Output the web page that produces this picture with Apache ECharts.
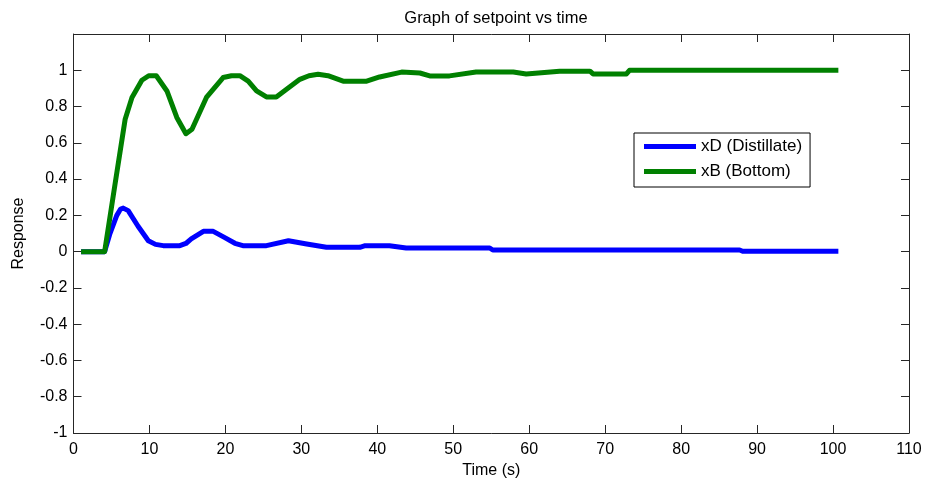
<!DOCTYPE html>
<html>
<head>
<meta charset="utf-8">
<script src="https://cdn.jsdelivr.net/npm/echarts@6/dist/echarts.min.js"></script>
<style>
  html, body { margin: 0; padding: 0; background: #fff; }
  #chart { width: 927px; height: 481px; }
</style>
</head>
<body>
<div id="chart"></div>
<script>
// xD (Distillate) response
const tD = [1, 4.1, 4.8, 5.7, 6.2, 6.55, 7.2, 8.5, 9.85, 10.8, 11.8, 14, 14.8, 15.5, 17.1, 18.4, 19.8, 21.25, 22.3, 25.4, 28.3, 30.7, 33.3, 37.7, 38.4, 41.6, 43.8, 54.8, 55.2, 87.7, 88.1, 100.7];
const xD = [0, 0, 0.1, 0.2, 0.235, 0.24, 0.226, 0.14, 0.06, 0.04, 0.033, 0.033, 0.045, 0.07, 0.112, 0.112, 0.08, 0.046, 0.033, 0.033, 0.06, 0.042, 0.024, 0.024, 0.033, 0.033, 0.02, 0.02, 0.009, 0.009, 0.002, 0.002];

// xB (Bottom) response
const tB = [1, 4.1, 5.5, 6.8, 7.7, 9, 9.9, 10.9, 12.3, 13.6, 14.8, 15.6, 17.5, 19.7, 20.8, 21.9, 23, 24.1, 25.4, 26.7, 28.05, 29.8, 31, 32.2, 33.5, 35.5, 38.6, 40.3, 43.2, 45.6, 46.9, 49.5, 53, 57.9, 59.6, 64, 68, 68.4, 72.8, 73.2, 100.7];
const xB = [0, 0, 0.38, 0.73, 0.85, 0.945, 0.97, 0.97, 0.886, 0.74, 0.65, 0.675, 0.85, 0.96, 0.97, 0.97, 0.94, 0.886, 0.853, 0.853, 0.895, 0.95, 0.97, 0.978, 0.97, 0.94, 0.94, 0.963, 0.99, 0.985, 0.969, 0.969, 0.99, 0.99, 0.98, 0.995, 0.995, 0.98, 0.98, 1.0, 1.0];

const pairs = (t, v) => t.map((x, i) => [x, v[i]]);

const font = 'Liberation Sans, Arial, sans-serif';
const axisCol = '#262626';

const chart = echarts.init(document.getElementById('chart'));

const baseX = {
  type: 'value', min: 0, max: 110, interval: 10,
  axisLine: { show: true, onZero: false, lineStyle: { color: axisCol, width: 1 } },
  axisTick: { show: true, inside: true, length: 8, lineStyle: { color: axisCol } },
  splitLine: { show: false }
};
const baseY = {
  type: 'value', min: -1, max: 1.2, interval: 0.2,
  axisLine: { show: true, onZero: false, lineStyle: { color: axisCol, width: 1 } },
  axisTick: { show: true, inside: true, length: 8, lineStyle: { color: axisCol } },
  splitLine: { show: false }
};

chart.setOption({
  animation: false,
  backgroundColor: '#fff',
  title: {
    text: 'Graph of setpoint vs time',
    left: 491, top: 5, textAlign: 'center',
    textStyle: { fontFamily: font, fontSize: 16.5, fontWeight: 'normal', color: '#000' }
  },
  legend: {
    orient: 'vertical',
    left: 634, top: 133,
    backgroundColor: '#fff',
    borderColor: '#000', borderWidth: 1,
    padding: [5, 8, 7, 10],
    icon: 'rect', itemWidth: 52, itemHeight: 5, itemGap: 8,
    textStyle: { fontFamily: font, fontSize: 17, color: '#000' },
    data: ['xD (Distillate)', 'xB (Bottom)']
  },
  grid: { left: 73.5, right: 18, top: 34, bottom: 48, containLabel: false, outerBoundsMode: 'none' },
  xAxis: [
    Object.assign({}, baseX, {
      position: 'bottom',
      name: 'Time (s)', nameLocation: 'middle', nameGap: 29,
      nameTextStyle: { fontFamily: font, fontSize: 16, color: '#000' },
      axisLabel: { fontFamily: font, fontSize: 16, color: '#000', margin: 9 }
    }),
    Object.assign({}, baseX, { position: 'top', axisLabel: { show: false } })
  ],
  yAxis: [
    Object.assign({}, baseY, {
      position: 'left',
      name: 'Response', nameLocation: 'middle', nameGap: 47,
      nameTextStyle: { fontFamily: font, fontSize: 16, color: '#000' },
      axisLabel: {
        fontFamily: font, fontSize: 16, color: '#000', margin: 6,
        formatter: v => (v > 1.05 ? '' : String(Math.round(v * 10) / 10))
      }
    }),
    Object.assign({}, baseY, { position: 'right', axisLabel: { show: false } })
  ],
  series: [
    {
      name: 'xD (Distillate)', type: 'line', xAxisIndex: 0, yAxisIndex: 0,
      data: pairs(tD, xD), showSymbol: false,
      itemStyle: { color: '#0000ff' },
      lineStyle: { color: '#0000ff', width: 5, join: 'round' }
    },
    {
      name: 'xB (Bottom)', type: 'line', xAxisIndex: 0, yAxisIndex: 0,
      data: pairs(tB, xB), showSymbol: false,
      itemStyle: { color: '#008000' },
      lineStyle: { color: '#008000', width: 5, join: 'round' }
    }
  ]
});
</script>
</body>
</html>
